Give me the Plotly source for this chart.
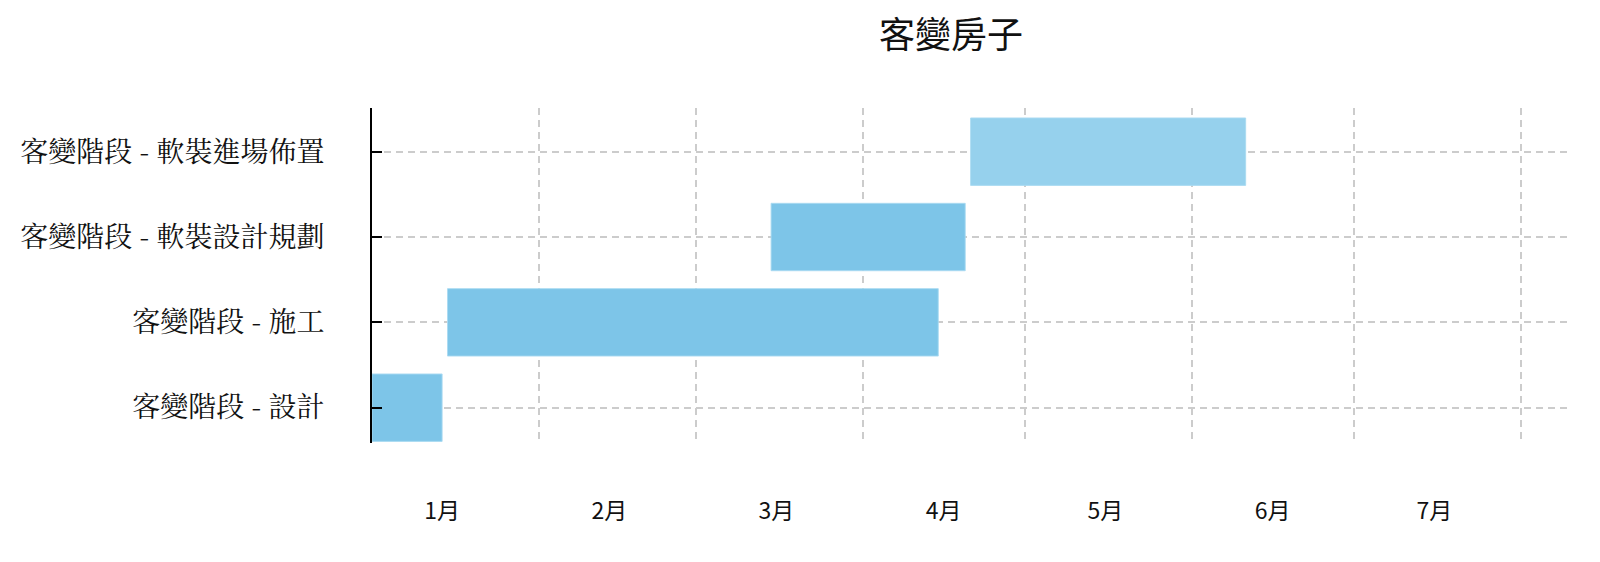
import pandas as pd
import plotly.graph_objects as go

tasks = ["客變階段 - 設計", "客變階段 - 施工", "客變階段 - 軟裝設計規劃", "客變階段 - 軟裝進場佈置"]
starts = ["2024-01-01", "2024-01-15", "2024-03-15", "2024-04-21"]
ends = ["2024-01-14", "2024-04-15", "2024-04-20", "2024-06-11"]
colors = ["#7dc5e8", "#7dc5e8", "#7dc5e8", "#96d1ed"]

month_labels = ["1月", "2月", "3月", "4月", "5月", "6月", "7月"]
month_mid = ["2024-01-14", "2024-02-14", "2024-03-16", "2024-04-16", "2024-05-16", "2024-06-16", "2024-07-16"]
month_starts = ["2024-02-01", "2024-03-01", "2024-04-01", "2024-05-01", "2024-06-01", "2024-07-01", "2024-08-01"]
x_range = ["2024-01-01", "2024-08-09 14:00"]

s = pd.to_datetime(starts)
e = pd.to_datetime(ends)
dur_ms = [(b - a).total_seconds() * 1000 for a, b in zip(s, e)]

W, H = 1592, 554  # page body has an 8px margin

fig = go.Figure()
fig.add_trace(go.Bar(
    y=tasks, x=dur_ms, base=starts, orientation="h",
    width=0.79,
    marker=dict(color=colors, line=dict(color="rgba(170,218,242,0.9)", width=1)),
    hoverinfo="skip", showlegend=False,
))

fig.update_layout(
    width=W, height=H,
    margin=dict(l=360, r=33, t=100, b=119),
    plot_bgcolor="white", paper_bgcolor="white",
    title=dict(text="客變房子", x=(951 - 8) / W, xref="container", xanchor="center",
               y=1 - (35 - 8) / H, yref="container", yanchor="middle",
               font=dict(family="Noto Sans CJK TC", size=36, color="#111111")),
)
fig.update_xaxes(
    type="date", range=x_range,
    tickmode="array", tickvals=month_mid, ticktext=month_labels,
    showgrid=False, showline=False, ticks="", zeroline=False,
    tickfont=dict(family="Liberation Sans Narrow, Noto Sans CJK TC", size=23, color="#111111"),
    ticklabelstandoff=52,
    minor=dict(tickmode="array", tickvals=month_starts, showgrid=True,
               gridcolor="#cccccc", gridwidth=2, griddash="7px,5px", ticks=""),
)
fig.update_yaxes(
    type="category", categoryorder="array", categoryarray=tasks,
    range=[-0.414, 3.512],
    showline=True, linecolor="black", linewidth=2,
    ticks="inside", ticklen=10, tickwidth=2, tickcolor="black",
    showgrid=True, gridcolor="#cccccc", gridwidth=2, griddash="7px,5px",
    zeroline=False,
    tickfont=dict(family="Noto Serif CJK TC, Noto Sans CJK TC", size=28, color="#111111"),
    ticklabelstandoff=40,
)

fig.write_html("out.html")
